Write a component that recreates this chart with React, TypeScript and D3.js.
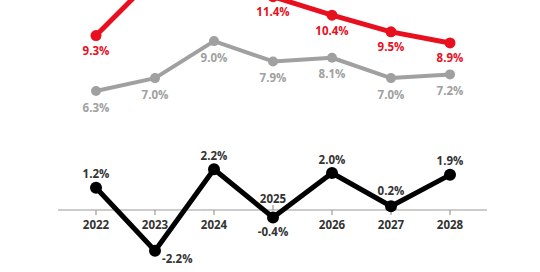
import React from "react";
import * as d3 from "d3";

const years = ["2022", "2023", "2024", "2025", "2026", "2027", "2028"];
const redValues = [9.3, 12.5, 12.4, 11.4, 10.4, 9.5, 8.9];
const grayValues = [6.3, 7.0, 9.0, 7.9, 8.1, 7.0, 7.2];
const blackValues = [1.2, -2.2, 2.2, -0.4, 2.0, 0.2, 1.9];

const RED = "#e8101e";
const GRAY = "#a0a0a0";
const BLACK = "#000000";
const DARK = "#333333";
const FONT = "'Open Sans', sans-serif";

const fmt = (v: number) => `${v.toFixed(1)}%`;

export default function App() {
  const W = 540;
  const H = 272;
  const x = d3.scalePoint<string>().domain(years).range([96, 450]);
  const yTop = d3.scaleLinear().domain([0, 12]).range([207.6, 207.6 - 12 * 18.5]);
  const yBot = d3.scaleLinear().domain([-2.2, 2.2]).range([210 + 40.7, 210 - 40.7]);

  const lineTop = (vals: number[]) =>
    d3.line<number>().x((_, i) => x(years[i])!).y((v) => yTop(v))(vals)!;
  const lineBot = d3.line<number>().x((_, i) => x(years[i])!).y((v) => yBot(v))(blackValues)!;

  const axisY = yBot(0);

  return (
    <svg
      width={W}
      height={H}
      style={{ position: "absolute", left: 0, top: 0, background: "#fff" }}
      fontFamily={FONT}
    >
      {/* Top chart: gray series */}
      <path d={lineTop(grayValues)} fill="none" stroke={GRAY} strokeWidth={4} strokeLinejoin="round" />
      {grayValues.map((v, i) => (
        <g key={"g" + i}>
          <circle cx={x(years[i])} cy={yTop(v)} r={5} fill={GRAY} />
          <text
            x={x(years[i])}
            y={yTop(v) + 16}
            textAnchor="middle"
            dominantBaseline="central"
            fontSize={11.5}
            fontWeight={700}
            fill={GRAY}
          >
            {fmt(v)}
          </text>
        </g>
      ))}

      {/* Top chart: red series */}
      <path d={lineTop(redValues)} fill="none" stroke={RED} strokeWidth={5} strokeLinejoin="round" />
      {redValues.map((v, i) => (
        <g key={"r" + i}>
          <circle cx={x(years[i])} cy={yTop(v)} r={5.5} fill={RED} />
          <text
            x={x(years[i])}
            y={yTop(v) + 15}
            textAnchor="middle"
            dominantBaseline="central"
            fontSize={11.5}
            fontWeight={700}
            fill={RED}
          >
            {fmt(v)}
          </text>
        </g>
      ))}

      {/* Bottom chart axis */}
      <line x1={58} x2={487} y1={axisY} y2={axisY} stroke="#9a9a9a" strokeWidth={1.2} />
      {years.map((yr, i) => {
        const up = blackValues[i] < 0 && i !== 1;
        return (
          <g key={"t" + yr}>
            <line
              x1={x(yr)}
              x2={x(yr)}
              y1={axisY}
              y2={up ? axisY - 5 : axisY + 5}
              stroke="#9a9a9a"
              strokeWidth={1.2}
            />
            <text
              x={x(yr)}
              y={up ? axisY - 12 : axisY + 14}
              textAnchor="middle"
              dominantBaseline="central"
              fontSize={11.5}
              fontWeight={700}
              fill={DARK}
            >
              {yr}
            </text>
          </g>
        );
      })}

      {/* Bottom chart: black series */}
      <path d={lineBot} fill="none" stroke={BLACK} strokeWidth={5} strokeLinejoin="round" />
      {blackValues.map((v, i) => {
        const cx = x(years[i])!;
        const cy = yBot(v);
        let tx = cx;
        let ty = cy - 14;
        let anchor: "middle" | "start" = "middle";
        if (i === 1) {
          tx = cx + 7;
          ty = cy + 8;
          anchor = "start";
        } else if (v < 0) {
          ty = cy + 14;
        } else if (v < 0.5) {
          ty = cy - 16;
        }
        return (
          <g key={"b" + i}>
            <circle cx={cx} cy={cy} r={6} fill={BLACK} />
            <text
              x={tx}
              y={ty}
              textAnchor={anchor}
              dominantBaseline="central"
              fontSize={11.5}
              fontWeight={700}
              fill={DARK}
            >
              {fmt(v)}
            </text>
          </g>
        );
      })}
    </svg>
  );
}
